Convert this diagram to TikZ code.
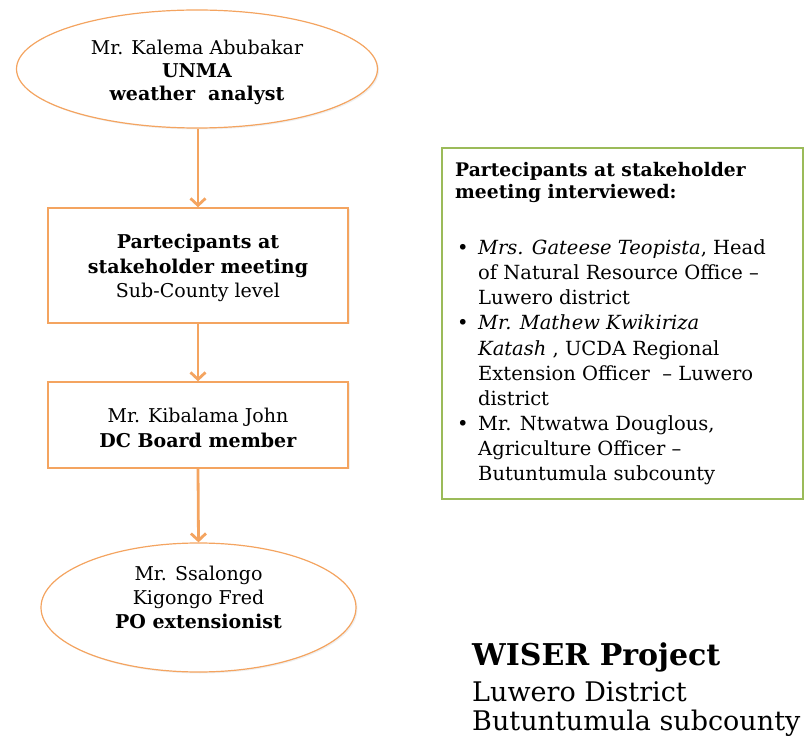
\documentclass[tikz,border=0pt]{standalone}
\usepackage{fontspec}
\setmainfont{DejaVu Serif}
\usetikzlibrary{shapes.geometric,arrows.meta,shadows}

\definecolor{flowline}{HTML}{F4A460}
\definecolor{notebox}{HTML}{9BBB59}

\tikzset{
  txt/.style={font=\fontsize{19}{24.5}\selectfont, align=center, inner sep=0pt},
  oval/.style={ellipse, draw=flowline, line width=1.2pt, fill=white,
    drop shadow={opacity=0.12, shadow xshift=1.5pt, shadow yshift=-1.5pt}},
  card/.style={rectangle, draw=flowline, line width=1.4pt, fill=white,
    drop shadow={opacity=0.12, shadow xshift=1.5pt, shadow yshift=-1.5pt}},
  flow/.style={draw=flowline, line width=2.8pt,
    -{Straight Barb[length=7pt,width=15pt,line width=2.8pt]}},
}

\begin{document}
\begin{tikzpicture}[x=1pt,y=-1pt]
\useasboundingbox (0,0) rectangle (812,743);

% chain of contacts
\node[oval, minimum width=361pt, minimum height=118pt] (kalema) at (197,69) {};
\node[txt, font=\fontsize{19}{23}\selectfont] (kalemaT) at (197,72)
  {Mr. Kalema Abubakar\\\textbf{UNMA}\\\textbf{weather\ \ analyst}};

\node[card, minimum width=300pt, minimum height=115pt] (meet) at (198,265.5) {};
\node[txt] (meetT) at (198,268)
  {\textbf{Partecipants at}\\\textbf{stakeholder meeting}\\Sub-County level};

\node[card, minimum width=300pt, minimum height=86pt] (kib) at (198,425) {};
\node[txt] (kibT) at (198,428) {Mr. Kibalama John\\\textbf{DC Board member}};

\node[oval, minimum width=315pt, minimum height=129pt] (ssal) at (198.5,607.5) {};
\node[txt, font=\fontsize{19}{24}\selectfont] (ssalT) at (198.5,597)
  {Mr. Ssalongo\\Kigongo Fred\\\textbf{PO extensionist}};

\draw[flow] (kalema.south -| meet.north) -- (meet.north);
\draw[flow] (meet.south) -- (kib.north);
\draw[flow] (kib.south) -- (ssal.north);

% interviewed participants (base anchors sit on the last line)
\node[rectangle, draw=notebox, line width=2pt, minimum width=361pt,
  minimum height=351pt] (panel) at (622.5,323.5) {};
\node[anchor=base west, inner sep=0pt, align=left,
  font=\fontsize{18.7}{22}\selectfont\bfseries] (head) at (455,199)
  {Partecipants at stakeholder\\meeting interviewed:};
\node[anchor=base west, inner sep=0pt, align=left,
  font=\fontsize{19.5}{25.2}\selectfont] (list) at (457,481)
  {\makebox[21pt][l]{•}\textit{Mrs. Gateese Teopista}, Head\\
   \hspace*{21pt}of Natural Resource Office –\\
   \hspace*{21pt}Luwero district\\
   \makebox[21pt][l]{•}\textit{Mr. Mathew Kwikiriza}\\
   \hspace*{21pt}\textit{Katash} , UCDA Regional\\
   \hspace*{21pt}Extension Officer\ \ – Luwero\\
   \hspace*{21pt}district\\
   \makebox[21pt][l]{•}Mr. Ntwatwa Douglous,\\
   \hspace*{21pt}Agriculture Officer –\\
   \hspace*{21pt}Butuntumula subcounty};

% project caption
\node[anchor=base west, inner sep=0pt, align=left,
  font=\fontsize{30}{30}\selectfont\bfseries] (proj) at (472,665) {WISER Project};
\node[anchor=base west, inner sep=0pt, align=left,
  font=\fontsize{27}{29}\selectfont] (place) at (472,730)
  {Luwero District\\Butuntumula subcounty};
\end{tikzpicture}
\end{document}
